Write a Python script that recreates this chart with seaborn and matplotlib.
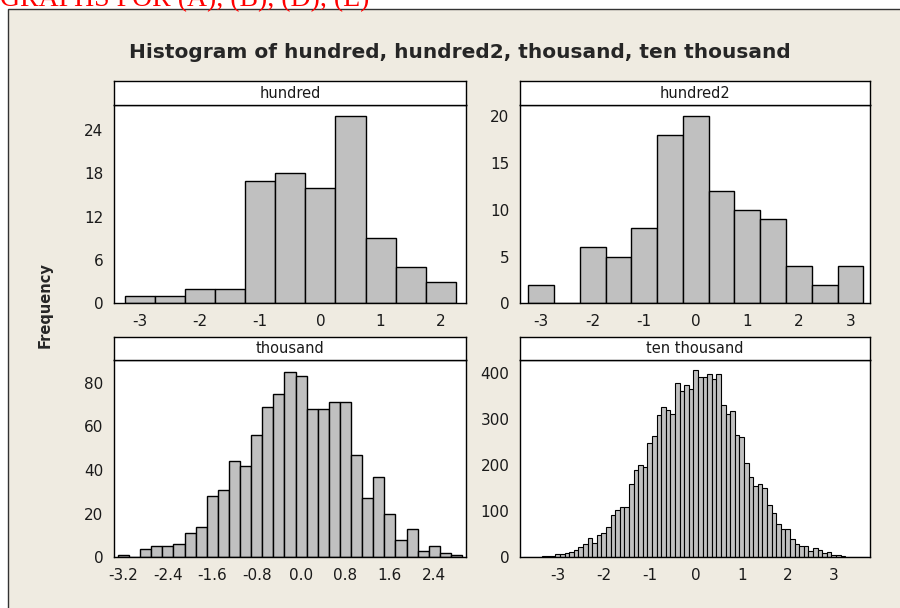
import numpy as np
import pandas as pd
import matplotlib
matplotlib.use("Agg")
import matplotlib.pyplot as plt
import seaborn as sns
from matplotlib.patches import Rectangle

# ---- data (bin midpoints, bin width, counts) ----
hundred_mids = [-3.0, -2.5, -2.0, -1.5, -1.0, -0.5, 0.0, 0.5, 1.0, 1.5, 2.0]
hundred_counts = [1, 1, 2, 2, 17, 18, 16, 26, 9, 5, 3]

hundred2_mids = [-3.0, -2.5, -2.0, -1.5, -1.0, -0.5, 0.0, 0.5, 1.0, 1.5, 2.0, 2.5, 3.0]
hundred2_counts = [2, 0, 6, 5, 8, 18, 20, 12, 10, 9, 4, 2, 4]

thousand_first, thousand_width = -3.2, 0.2
thousand_counts = [1, 0, 4, 5, 5, 6, 11, 14, 28, 31, 44, 42, 56, 69, 75, 85,
                   83, 68, 68, 71, 71, 47, 27, 37, 20, 8, 13, 3, 5, 2, 1]

tenk_first, tenk_width = -3.7, 0.1
tenk_counts = [1, 0, 1, 1, 2, 2,
               3, 8, 8, 10, 12, 16, 22, 28, 42, 32, 49, 52, 66,
               91, 103, 110, 110, 159, 190, 201, 196, 248, 264, 309, 326, 320,
               312, 378, 362, 374, 365, 406,
               391, 391, 398, 388, 398, 330, 312, 319, 265, 262, 204, 175, 154,
               159, 151, 114, 97, 73, 62,
               62, 40, 29, 25, 25, 14, 20, 15, 9, 12, 5, 4, 2, 1, 1, 0, 1, 1]

panel_names = ["hundred", "hundred2", "thousand", "ten thousand"]

hundred_xticks = [-3, -2, -1, 0, 1, 2]
hundred2_xticks = [-3, -2, -1, 0, 1, 2, 3]
thousand_xticks = [-3.2, -2.4, -1.6, -0.8, 0.0, 0.8, 1.6, 2.4]
tenk_xticks = [-3, -2, -1, 0, 1, 2, 3]

hundred_yticks = [0, 6, 12, 18, 24]
hundred2_yticks = [0, 5, 10, 15, 20]
thousand_yticks = [0, 20, 40, 60, 80]
tenk_yticks = [0, 100, 200, 300, 400]

title = "Histogram of hundred, hundred2, thousand, ten thousand"
header = "GRAPHS FOR (A), (B), (D), (E)"


def mids_from(first, width, counts):
    return list(np.round(first + width * np.arange(len(counts)), 3))


def edges_from(mids, width):
    mids = np.asarray(mids, dtype=float)
    return [float(e) for e in np.round(np.append(mids - width / 2, mids[-1] + width / 2), 4)]


sns.set_style("white")
plt.rcParams["font.family"] = ["DejaVu Sans"]

W, H = 900, 608
fig = plt.figure(figsize=(W / 100, H / 100), dpi=100)
fig.patch.set_facecolor("white")

# beige graph window with its border
fig.add_artist(Rectangle((8 / W, -0.01), 1.0, 1 - 8.5 / H + 0.01,
                         transform=fig.transFigure, facecolor="#efebe1",
                         edgecolor="#333333", linewidth=1.0, zorder=0))

# red heading, cut by the top edge as in the screenshot
fig.text(0.0, 1 - 6 / H, header, color="red", family="Liberation Serif",
         fontsize=20, ha="left", va="baseline")

fig.text(460 / W, 1 - 53 / H, title, ha="center", va="center",
         fontsize=14.5, fontweight="bold")
fig.text(45 / W, 1 - 305 / H, "Frequency", rotation=90, ha="center",
         va="center", fontsize=10.5, fontweight="bold")

# (left, right, strip top, plot top, plot bottom) in pixels
boxes = [(114, 466, 81, 105, 303.3),
         (520, 870, 81, 105, 303.3),
         (114, 466, 336.7, 360, 557.3),
         (520, 870, 336.7, 360, 557.3)]

series = [
    (hundred_mids, 0.5, hundred_counts, (-3.43, 2.42), (0, 27.46),
     hundred_xticks, [str(t) for t in hundred_xticks], hundred_yticks, 1.0),
    (hundred2_mids, 0.5, hundred2_counts, (-3.41, 3.38), (0, 21.2),
     hundred2_xticks, [str(t) for t in hundred2_xticks], hundred2_yticks, 1.0),
    (mids_from(thousand_first, thousand_width, thousand_counts), thousand_width,
     thousand_counts, (-3.37, 2.97), (0, 90.4),
     thousand_xticks, [f"{t:.1f}" for t in thousand_xticks], thousand_yticks, 1.0),
    (mids_from(tenk_first, tenk_width, tenk_counts), tenk_width, tenk_counts,
     (-3.82, 3.79), (0, 428.8),
     tenk_xticks, [str(t) for t in tenk_xticks], tenk_yticks, 0.8),
]

for name, (l, r, st, pt, pb), s in zip(panel_names, boxes, series):
    mids, width, counts, xlim, ylim, xt, xtl, yt, lw = s
    df = pd.DataFrame({"value": mids, "count": counts})

    ax = fig.add_axes([l / W, 1 - pb / H, (r - l) / W, (pb - pt) / H])
    ax.set_facecolor("white")
    sns.histplot(data=df, x="value", weights="count",
                 bins=edges_from(mids, width), ax=ax,
                 color="#c0c0c0", edgecolor="black", linewidth=lw, alpha=1)
    ax.set_xlim(*xlim)
    ax.set_ylim(*ylim)
    ax.set_xticks(xt)
    ax.set_xticklabels(xtl)
    ax.set_yticks(yt)
    ax.set_xlabel("")
    ax.set_ylabel("")
    for sp in ax.spines.values():
        sp.set_visible(True)
        sp.set_color("black")
        sp.set_linewidth(1.0)
    ax.tick_params(direction="out", length=6, width=1, labelsize=11,
                   color="black", labelcolor="#1a1a1a", pad=1.5)

    # white strip with the panel name
    sax = fig.add_axes([l / W, 1 - pt / H, (r - l) / W, (pt - st) / H])
    sax.set_facecolor("white")
    sax.set_xticks([])
    sax.set_yticks([])
    for sp in sax.spines.values():
        sp.set_visible(True)
        sp.set_color("black")
        sp.set_linewidth(1.0)
    sax.text(0.5, 0.5, name, ha="center", va="center", fontsize=10.5,
             color="#1a1a1a", transform=sax.transAxes)

fig.savefig("out.png", dpi=100, facecolor=fig.get_facecolor())
